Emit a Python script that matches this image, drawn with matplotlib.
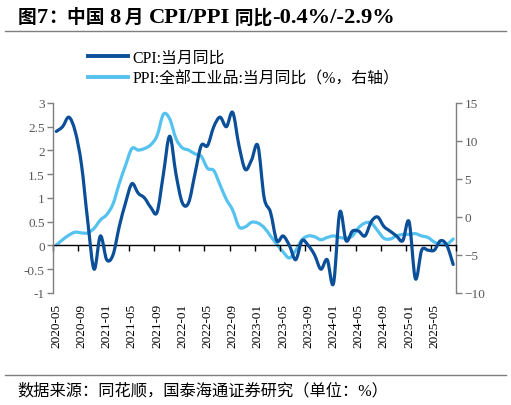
import numpy as np
import pandas as pd
import matplotlib
matplotlib.use("Agg")
import matplotlib.pyplot as plt
from matplotlib.path import Path
from matplotlib.patches import PathPatch
from matplotlib.lines import Line2D

months = pd.period_range("2020-05", "2025-08", freq="M").strftime("%Y-%m").tolist()

cpi = [2.4, 2.5, 2.7, 2.4, 1.7, 0.5, -0.5, 0.2,
       -0.3, -0.2, 0.4, 0.9, 1.3, 1.1, 1.0, 0.8, 0.7, 1.5, 2.3, 1.5,
       0.9, 0.9, 1.5, 2.1, 2.1, 2.5, 2.7, 2.5, 2.8, 2.1, 1.6, 1.8,
       2.1, 1.0, 0.7, 0.1, 0.2, 0.0, -0.3, 0.1, 0.0, -0.2, -0.5, -0.3,
       -0.8, 0.7, 0.1, 0.3, 0.3, 0.2, 0.5, 0.6, 0.4, 0.3, 0.2, 0.1,
       0.5, -0.7, -0.1, -0.1, -0.1, 0.1, 0.0, -0.4]

ppi = [-3.7, -3.0, -2.4, -2.0, -2.1, -2.1, -1.5, -0.4,
       0.3, 1.7, 4.4, 6.8, 9.0, 8.8, 9.0, 9.5, 10.7, 13.5, 12.9, 10.3,
       9.1, 8.8, 8.3, 8.0, 6.4, 6.1, 4.2, 2.3, 0.9, -1.3, -1.3, -0.7,
       -0.8, -1.4, -2.5, -3.6, -4.6, -5.4, -4.4, -3.0, -2.5, -2.6, -3.0, -2.7,
       -2.5, -2.7, -2.8, -2.5, -1.4, -0.8, -0.8, -1.8, -2.8, -2.9, -2.5, -2.3,
       -2.3, -2.2, -2.5, -2.7, -3.3, -3.6, -3.6, -2.9]

tick_labels = months[::4]

# title split into CJK / Latin runs (Latin rendered a bit larger, as in the original)
title_parts = [("图", "cjk"), ("7", "lat"), ("：", "cjk"), ("中国 ", "cjk"), ("8", "lat"),
               (" 月 ", "cjk"), ("CPI/PPI", "lat"), (" 同比", "cjk"), ("-0.4%/-2.9%", "lat")]
cpi_name = "CPI:当月同比"
ppi_name = "PPI:全部工业品:当月同比（%，右轴）"
source = "数据来源：同花顺，国泰海通证券研究（单位：%）"

CPI_C = "#0b4f99"
PPI_C = "#55c2f0"
GRAY = "#7f7f7f"
TXT = "#595959"
FAM = ["Liberation Serif", "Noto Sans CJK SC", "DejaVu Sans"]
plt.rcParams["font.family"] = FAM


def smooth_path(x, y, t=1/6):
    """Catmull-Rom style bezier through the data points."""
    x = np.asarray(x, float)
    y = np.asarray(y, float)
    n = len(x)
    verts = [(x[0], y[0])]
    codes = [Path.MOVETO]
    for i in range(n - 1):
        p0 = (x[max(i - 1, 0)], y[max(i - 1, 0)])
        p1 = (x[i], y[i])
        p2 = (x[i + 1], y[i + 1])
        p3 = (x[min(i + 2, n - 1)], y[min(i + 2, n - 1)])
        c1 = (p1[0] + (p2[0] - p0[0]) * t, p1[1] + (p2[1] - p0[1]) * t)
        c2 = (p2[0] - (p3[0] - p1[0]) * t, p2[1] - (p3[1] - p1[1]) * t)
        verts += [c1, c2, p2]
        codes += [Path.CURVE4] * 3
    return Path(verts, codes)


fig = plt.figure(figsize=(5.11, 4.06), dpi=100)
ax = fig.add_axes([0.104, 0.276, 0.789, 0.468])
ax2 = ax.twinx()

x = np.arange(len(months))
ax.set_xlim(-0.5, len(months) - 0.5)
ax.set_ylim(-1, 3)
ax2.set_ylim(-10, 15)

ax2.add_patch(PathPatch(smooth_path(x, ppi), facecolor="none", edgecolor=PPI_C,
                        lw=2.3, capstyle="round", joinstyle="round", zorder=2))
ax.add_patch(PathPatch(smooth_path(x, cpi), facecolor="none", edgecolor=CPI_C,
                       lw=2.3, capstyle="round", joinstyle="round", zorder=3))
ax.set_zorder(ax2.get_zorder() + 1)
ax.patch.set_visible(False)

# spines
for a in (ax, ax2):
    a.spines["top"].set_visible(False)
ax.spines["right"].set_visible(False)
ax2.spines["left"].set_visible(False)
ax2.spines["bottom"].set_visible(False)
ax.spines["left"].set_color(GRAY)
ax2.spines["right"].set_color(GRAY)
ax.spines["left"].set_linewidth(1.0)
ax2.spines["right"].set_linewidth(1.0)
ax.spines["bottom"].set_position(("data", 0))
ax.spines["bottom"].set_color("black")
ax.spines["bottom"].set_linewidth(1.0)
ax.spines["bottom"].set_zorder(1)

ax.set_yticks(np.arange(-1, 3.01, 0.5))
ax.set_yticklabels([f"{v:g}" for v in np.arange(-1, 3.01, 0.5)])
ax2.set_yticks(np.arange(-10, 15.1, 5))
ax.tick_params(axis="y", colors=GRAY, labelcolor=TXT, labelsize=9.5, length=4, width=1, pad=2)
ax2.tick_params(axis="y", colors=GRAY, labelcolor=TXT, labelsize=9.5, length=4, width=1, pad=2)

ax.set_xticks(np.arange(-0.5, len(months), 4))
ax.tick_params(axis="x", colors="black", length=4, width=1, labelbottom=False, direction="out")

sec = ax.secondary_xaxis("bottom")
sec.set_xticks(x[::4])
sec.set_xticklabels(tick_labels, rotation=90)
sec.spines["bottom"].set_visible(False)
sec.tick_params(axis="x", length=0, labelsize=9.5, labelcolor="black", pad=7)

# legend
handles = [Line2D([], [], color=CPI_C, lw=2.8), Line2D([], [], color=PPI_C, lw=2.8)]
fig.legend(handles, [cpi_name, ppi_name], loc="upper left", bbox_to_anchor=(0.172, 0.876),
           frameon=False, fontsize=11.4, handlelength=2.55, handletextpad=0.25,
           labelspacing=0.3, borderaxespad=0, borderpad=0)

# title built from runs on a common baseline
renderer = fig.canvas.get_renderer()
xpix = 18.0
ybase = 0.958 - 6.0 / 406
for txt, kind in title_parts:
    size = 13.5 if kind == "cjk" else 16.2
    t = fig.text(xpix / 511, ybase, txt, fontsize=size, fontweight="bold",
                 va="baseline", ha="left")
    bb = t.get_window_extent(renderer)
    xpix += bb.width

fig.add_artist(Line2D([0.01, 0.99], [0.921, 0.921], color=GRAY, lw=1.0))
fig.add_artist(Line2D([0.01, 0.99], [0.074, 0.074], color=GRAY, lw=1.0))
fig.text(0.033, 0.035, source, fontsize=11.7, va="center", ha="left")

fig.savefig("out.png", dpi=100)
